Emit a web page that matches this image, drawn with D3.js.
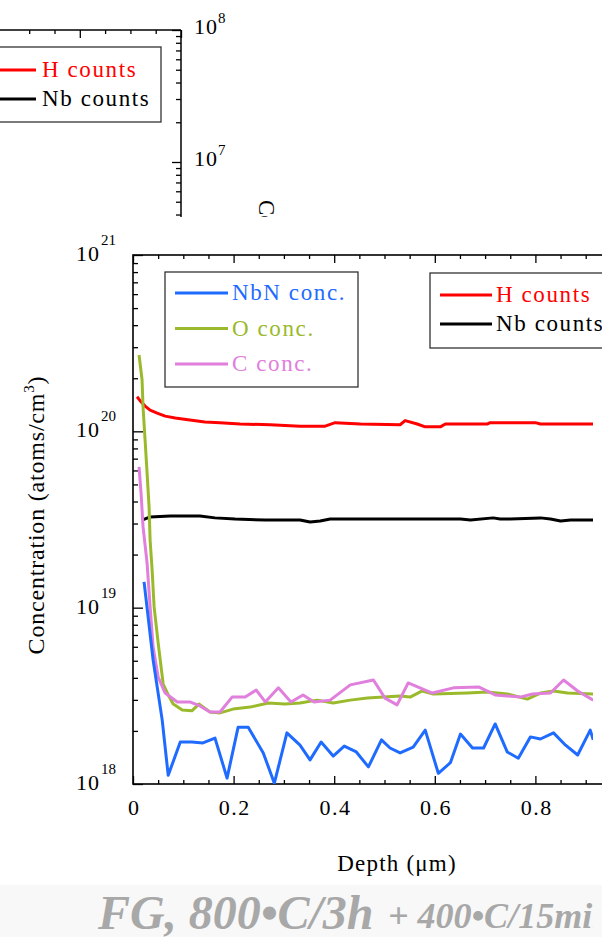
<!DOCTYPE html>
<html><head><meta charset="utf-8">
<script src="https://cdn.jsdelivr.net/npm/d3@7"></script>
<style>
html,body{margin:0;padding:0;background:#fff;}
svg{display:block;font-family:"Liberation Serif","Times New Roman",serif;}
</style>
</head><body>
<svg id="c" width="602" height="937"></svg>
<script>
// ---------- data (depth in µm, concentration in atoms/cm^3) ----------
const depthNbN = [0.022,0.040,0.058,0.070,0.094,0.117,0.139,0.163,0.187,0.209,0.229,0.259,0.281,0.306,0.332,0.352,0.374,0.398,0.420,0.444,0.468,0.494,0.511,0.531,0.557,0.581,0.607,0.631,0.651,0.675,0.697,0.720,0.744,0.766,0.790,0.810,0.836,0.860,0.884,0.909,0.915];
const nbnConc  = [1.40e19,5.05e18,2.31e18,1.12e18,1.73e18,1.73e18,1.71e18,1.82e18,1.08e18,2.10e18,2.10e18,1.50e18,1.01e18,1.95e18,1.66e18,1.37e18,1.73e18,1.44e18,1.64e18,1.52e18,1.25e18,1.78e18,1.60e18,1.50e18,1.62e18,2.02e18,1.15e18,1.32e18,1.92e18,1.60e18,1.60e18,2.19e18,1.52e18,1.40e18,1.85e18,1.80e18,1.95e18,1.66e18,1.46e18,2.02e18,1.78e18];

const depthO = [0.012,0.018,0.020,0.024,0.028,0.032,0.034,0.038,0.042,0.050,0.060,0.070,0.080,0.098,0.117,0.131,0.153,0.173,0.199,0.233,0.269,0.302,0.332,0.366,0.398,0.432,0.466,0.498,0.531,0.551,0.575,0.597,0.665,0.704,0.744,0.784,0.810,0.836,0.864,0.915];
const oConc  = [2.71e20,1.96e20,1.37e20,8.94e19,5.81e19,3.72e19,2.42e19,1.64e19,1.01e19,6.31e18,3.69e18,3.20e18,2.84e18,2.63e18,2.60e18,2.84e18,2.56e18,2.53e18,2.66e18,2.73e18,2.88e18,2.84e18,2.88e18,2.99e18,2.88e18,2.99e18,3.07e18,3.11e18,3.16e18,3.11e18,3.37e18,3.24e18,3.28e18,3.32e18,3.24e18,3.03e18,3.28e18,3.37e18,3.28e18,3.24e18];

const depthC = [0.012,0.016,0.020,0.024,0.028,0.034,0.040,0.050,0.064,0.088,0.113,0.133,0.153,0.173,0.197,0.223,0.245,0.263,0.289,0.314,0.338,0.360,0.392,0.432,0.478,0.501,0.525,0.547,0.595,0.637,0.687,0.720,0.770,0.794,0.830,0.856,0.884,0.915];
const cConc  = [6.28e19,4.47e19,2.87e19,2.27e19,1.79e19,1.01e19,5.98e18,4.04e18,3.28e18,2.92e18,2.92e18,2.77e18,2.56e18,2.56e18,3.11e18,3.11e18,3.41e18,2.92e18,3.51e18,2.92e18,3.20e18,2.92e18,2.99e18,3.65e18,3.89e18,3.07e18,2.81e18,3.74e18,3.28e18,3.51e18,3.55e18,3.20e18,3.11e18,3.24e18,3.28e18,3.89e18,3.37e18,2.99e18];

// counts plotted in concentration-equivalent units (their own axis is off-picture)
const depthH = [0.008,0.016,0.024,0.034,0.048,0.064,0.084,0.113,0.143,0.173,0.213,0.273,0.332,0.382,0.402,0.452,0.531,0.541,0.565,0.581,0.611,0.621,0.704,0.710,0.800,0.810,0.915];
const hCounts = [1.57e20,1.47e20,1.39e20,1.32e20,1.27e20,1.22e20,1.19e20,1.16e20,1.13e20,1.12e20,1.10e20,1.09e20,1.07e20,1.07e20,1.12e20,1.10e20,1.09e20,1.15e20,1.10e20,1.06e20,1.06e20,1.10e20,1.10e20,1.12e20,1.12e20,1.10e20,1.10e20];

const depthNb = [0.018,0.034,0.074,0.133,0.163,0.203,0.263,0.332,0.352,0.372,0.392,0.442,0.541,0.651,0.671,0.716,0.730,0.750,0.810,0.830,0.850,0.870,0.915];
const nbCounts = [3.14e19,3.27e19,3.31e19,3.31e19,3.23e19,3.18e19,3.14e19,3.14e19,3.06e19,3.10e19,3.18e19,3.18e19,3.18e19,3.18e19,3.14e19,3.23e19,3.18e19,3.18e19,3.23e19,3.18e19,3.10e19,3.14e19,3.14e19];

const xMajorTicks = [0, 0.2, 0.4, 0.6, 0.8, 1.0];
const xMinorTicks = [0.05,0.1,0.15,0.25,0.3,0.35,0.45,0.5,0.55,0.65,0.7,0.75,0.85,0.9,0.95];
const xTickLabels = ["0", "0.2", "0.4", "0.6", "0.8", ""];
const yDecades = [1e18, 1e19, 1e20, 1e21];
const yExponents = ["18", "19", "20", "21"];
const legendConc = ["NbN conc.", "O conc.", "C conc."];
const legendCounts = ["H counts", "Nb counts"];

// background (partly hidden) chart
const bgDecades = [1e7, 1e8];
const bgExponents = ["7", "8"];
const bgXMajor = [0.8, 1.0];
const bgXMinor = [0.7, 0.75, 0.85, 0.9, 0.95];

const colNbN = "#1f6bff", colO = "#9aba2c", colC = "#e07fdc", colH = "#ff0000", colNb = "#000000";

// ---------- drawing ----------
const svg = d3.select("#c");
const LS = 1.6; // letter spacing of the legend texts

// ---- background chart (top, mostly covered) ----
const bx = d3.scaleLinear().domain([0, 1]).range([-325, 181]);
const by = d3.scaleLog().domain([1e6, 1e8]).range([294, 30]);
const bg = svg.append("g");
bg.append("line").attr("x1", -5).attr("x2", 181).attr("y1", 30).attr("y2", 30).attr("stroke", "#000").attr("stroke-width", 1.5);
bg.append("line").attr("x1", 181).attr("x2", 181).attr("y1", 30).attr("y2", 240).attr("stroke", "#000").attr("stroke-width", 1.5);
function styleAxis(g, w) {
  g.select(".domain").remove();
  g.selectAll(".tick line").attr("stroke", "#000").attr("stroke-width", w || 1.3);
}
bg.append("g").attr("transform", "translate(0,30)")
  .call(d3.axisTop(bx).tickValues(bgXMinor).tickSize(-4).tickFormat("")).call(g => styleAxis(g));
bg.append("g").attr("transform", "translate(0,30)")
  .call(d3.axisTop(bx).tickValues(bgXMajor).tickSize(-8).tickFormat("")).call(g => styleAxis(g));
const bgMinorY = by.ticks().filter(v => !bgDecades.includes(v) && v < 1e8);
bg.append("g").attr("transform", "translate(181,0)")
  .call(d3.axisRight(by).tickValues(bgMinorY).tickSize(-5).tickFormat("")).call(g => styleAxis(g));
bg.append("g").attr("transform", "translate(181,0)")
  .call(d3.axisRight(by).tickValues(bgDecades).tickSize(-9).tickFormat("")).call(g => styleAxis(g));
bgDecades.forEach((v, i) => {
  bg.append("text").attr("x", 194).attr("y", by(v) + 4).attr("font-size", 22).attr("letter-spacing", 1).text("10");
  bg.append("text").attr("x", 218).attr("y", by(v) - 7).attr("font-size", 15).text(bgExponents[i]);
});
bg.append("text").attr("transform", "translate(259,200) rotate(90)").attr("font-size", 23).text("Counts");
// background legend
bg.append("rect").attr("x", -10).attr("y", 47).attr("width", 171).attr("height", 75)
  .attr("fill", "#fff").attr("stroke", "#333").attr("stroke-width", 1.3);
[[colH, 0], [colNb, 1]].forEach(([c, i]) => {
  const yy = 70 + i * 29;
  bg.append("line").attr("x1", 0).attr("x2", 36).attr("y1", yy).attr("y2", yy).attr("stroke", c).attr("stroke-width", 2.8);
  bg.append("text").attr("x", 42).attr("y", yy + 7).attr("font-size", 23).attr("letter-spacing", LS).attr("fill", c).text(legendCounts[i]);
});

// ---- front chart ----
svg.append("rect").attr("x", 0).attr("y", 217).attr("width", 602).attr("height", 668).attr("fill", "#fff");
svg.append("rect").attr("x", 0).attr("y", 885).attr("width", 602).attr("height", 52).attr("fill", "#f8f8f8");

const x = d3.scaleLinear().domain([0, 1]).range([133, 636]);
const y = d3.scaleLog().domain([1e18, 1e21]).range([784, 255]);

const fr = svg.append("g");
// ticks
fr.append("g").attr("transform", "translate(0,784)")
  .call(d3.axisBottom(x).tickValues(xMinorTicks).tickSize(-4).tickFormat("")).call(g => styleAxis(g));
fr.append("g").attr("transform", "translate(0,784)")
  .call(d3.axisBottom(x).tickValues(xMajorTicks).tickSize(-8).tickPadding(15)
    .tickFormat((d, i) => xTickLabels[i]))
  .call(g => styleAxis(g))
  .call(g => g.selectAll("text").attr("font-size", 22).attr("letter-spacing", 1.5)
    .attr("dx", "0.75").attr("fill", "#000")
    .attr("font-family", "'Liberation Serif','Times New Roman',serif"));
fr.append("g").attr("transform", "translate(0,255)")
  .call(d3.axisTop(x).tickValues(xMinorTicks).tickSize(-4).tickFormat("")).call(g => styleAxis(g));
fr.append("g").attr("transform", "translate(0,255)")
  .call(d3.axisTop(x).tickValues(xMajorTicks).tickSize(-8).tickFormat("")).call(g => styleAxis(g));
const yMinor = y.ticks().filter(v => !yDecades.includes(v));
fr.append("g").attr("transform", "translate(133,0)")
  .call(d3.axisLeft(y).tickValues(yMinor).tickSize(-5).tickFormat("")).call(g => styleAxis(g));
fr.append("g").attr("transform", "translate(133,0)")
  .call(d3.axisLeft(y).tickValues(yDecades).tickSize(-10).tickFormat("")).call(g => styleAxis(g));
// frame
fr.append("rect").attr("x", x(0)).attr("y", y(1e21)).attr("width", x(1) - x(0)).attr("height", y(1e18) - y(1e21))
  .attr("fill", "none").attr("stroke", "#000").attr("stroke-width", 1.6);
// y labels
yDecades.forEach((v, i) => {
  fr.append("text").attr("x", 76).attr("y", y(v) + 6).attr("font-size", 22).attr("letter-spacing", 1).text("10");
  fr.append("text").attr("x", 101).attr("y", y(v) - 10).attr("font-size", 15).text(yExponents[i]);
});
// axis titles
const yt = fr.append("text").attr("transform", "translate(44,515) rotate(-90)").attr("text-anchor", "middle")
  .attr("font-size", 24).attr("letter-spacing", 0.8);
yt.append("tspan").text("Concentration (atoms/cm");
yt.append("tspan").attr("font-size", 15).attr("dy", -10).text("3");
yt.append("tspan").attr("dy", 10).text(")");
fr.append("text").attr("x", 397).attr("y", 871).attr("text-anchor", "middle").attr("font-size", 23)
  .attr("letter-spacing", 1.2).text("Depth (\u03bcm)");

// lines
const clip = svg.append("clipPath").attr("id", "pc");
clip.append("rect").attr("x", 133).attr("y", 255).attr("width", 460).attr("height", 529);
const lines = fr.append("g").attr("clip-path", "url(#pc)");
const lineGen = d3.line().x(d => x(d[0])).y(d => y(d[1]));
function drawSeries(depths, vals, color) {
  lines.append("path").datum(depths.map((d, i) => [d, vals[i]])).attr("d", lineGen)
    .attr("fill", "none").attr("stroke", color).attr("stroke-width", 3)
    .attr("stroke-linejoin", "round");
}
drawSeries(depthH, hCounts, colH);
drawSeries(depthNb, nbCounts, colNb);
drawSeries(depthO, oConc, colO);
drawSeries(depthC, cConc, colC);
drawSeries(depthNbN, nbnConc, colNbN);

// legends
fr.append("rect").attr("x", 165).attr("y", 272).attr("width", 193).attr("height", 115)
  .attr("fill", "#fff").attr("stroke", "#333").attr("stroke-width", 1.3);
[colNbN, colO, colC].forEach((c, i) => {
  const yy = 293 + i * 35.5;
  fr.append("line").attr("x1", 175).attr("x2", 228).attr("y1", yy).attr("y2", yy).attr("stroke", c).attr("stroke-width", 2.8);
  fr.append("text").attr("x", 232).attr("y", yy + 7).attr("font-size", 23).attr("letter-spacing", LS).attr("fill", c).text(legendConc[i]);
});
const lg2 = fr.append("g");
lg2.append("rect").attr("x", 430).attr("y", 273).attr("width", 200).attr("height", 75)
  .attr("fill", "#fff").attr("stroke", "#333").attr("stroke-width", 1.3);
[colH, colNb].forEach((c, i) => {
  const yy = 295 + i * 29;
  lg2.append("line").attr("x1", 440).attr("x2", 492).attr("y1", yy).attr("y2", yy).attr("stroke", c).attr("stroke-width", 2.8);
  lg2.append("text").attr("x", 496).attr("y", yy + 7).attr("font-size", 23).attr("letter-spacing", LS).attr("fill", c).text(legendCounts[i]);
});

// title
const tclip = svg.append("clipPath").attr("id", "tc");
tclip.append("rect").attr("x", 0).attr("y", 880).attr("width", 593).attr("height", 60);
const tg = svg.append("g").attr("clip-path", "url(#tc)");
tg.append("text").attr("x", 98).attr("y", 929).attr("font-size", 48).attr("font-weight", "bold")
  .attr("font-style", "italic").attr("fill", "#a8a8a8").text("FG, 800\u2022C/3h");
tg.append("text").attr("x", 388).attr("y", 928).attr("font-size", 36).attr("font-weight", "bold")
  .attr("font-style", "italic").attr("fill", "#a8a8a8").text("+ 400\u2022C/15min");
</script>
</body></html>
